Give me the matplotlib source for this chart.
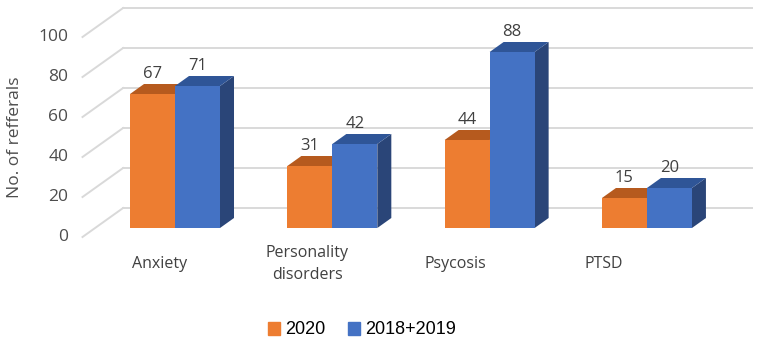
import matplotlib.pyplot as plt
from matplotlib.patches import Patch

categories = ["Anxiety", "Personality\ndisorders", "Psycosis", "PTSD"]
vals_2020 = [67, 31, 44, 15]
vals_1819 = [71, 42, 88, 20]
series_names = ["2020", "2018+2019"]
yticks = [0, 20, 40, 60, 80, 100]

# colours (front, top, side)
orange = ("#ED7D31", "#B65A1E", "#A54E15")
blue = ("#4472C4", "#2F5597", "#2A4578")
grid_c = "#D9D9D9"
txt_c = "#4D4D4D"

plt.rcParams["font.family"] = ["Open Sans", "DejaVu Sans"]

fig = plt.figure(figsize=(7.61, 3.45), dpi=100)
ax = fig.add_axes([0, 0, 1, 1])
ax.set_xlim(-1.1125, 3.725)
ax.set_ylim(-58.5, 114)
ax.axis("off")

w = 0.286      # bar width
ddx = 0.089    # depth offset (x) of one bar depth
ddy = 5.0      # depth offset (y)
x_back0, x_back1 = -0.33, 3.668
x_front = x_back0 - 2.9 * ddx

# back wall grid + left floor diagonals
for v in yticks:
    ax.plot([x_back0, x_back1], [v + 2 * ddy, v + 2 * ddy], color=grid_c, lw=1.4, zorder=1)
    ax.plot([x_front, x_back0], [v - 0.9 * ddy, v + 2 * ddy], color=grid_c, lw=1.4, zorder=1)
    ax.text(x_front - 0.09, v - 0.9 * ddy, str(v), ha="right", va="center",
            fontsize=12.5, color=txt_c)


def bar3d(x0, v, cols, z):
    ax.fill([x0 + w, x0 + w + ddx, x0 + w + ddx, x0 + w],
            [0, ddy, v + ddy, v], color=cols[2], lw=0, zorder=z)
    ax.fill([x0, x0 + w, x0 + w + ddx, x0 + ddx],
            [v, v, v + ddy, v + ddy], color=cols[1], lw=0, zorder=z)
    ax.bar(x0, v, w, align="edge", color=cols[0], lw=0, zorder=z + 0.5)
    ax.text(x0 + w / 2, v + ddy + 1.0, str(v), ha="center", va="bottom",
            fontsize=12, color="#404040", zorder=z + 1)


for i in range(len(categories)):
    bar3d(i - w, vals_2020[i], orange, 3 + i)
    bar3d(i, vals_1819[i], blue, 3.6 + i)
    ax.text(i * 0.941 - 0.10, -18, categories[i], ha="center", va="center",
            fontsize=11.5, color="#404040", linespacing=1.5)

fig.text(15 / 761, 1 - 137.5 / 345, "No. of refferals", rotation=90,
         ha="center", va="center", fontsize=12.5, color=txt_c)

handles = [Patch(color=orange[0]), Patch(color=blue[0])]
fig.legend(handles, series_names, loc="center", bbox_to_anchor=(362 / 761, 1 - 330 / 345),
           ncol=2, frameon=False, handlelength=0.7, handleheight=0.7, handletextpad=0.3,
           columnspacing=1.2, prop={"family": "Liberation Sans", "size": 13})

fig.savefig("out.png", dpi=100)
